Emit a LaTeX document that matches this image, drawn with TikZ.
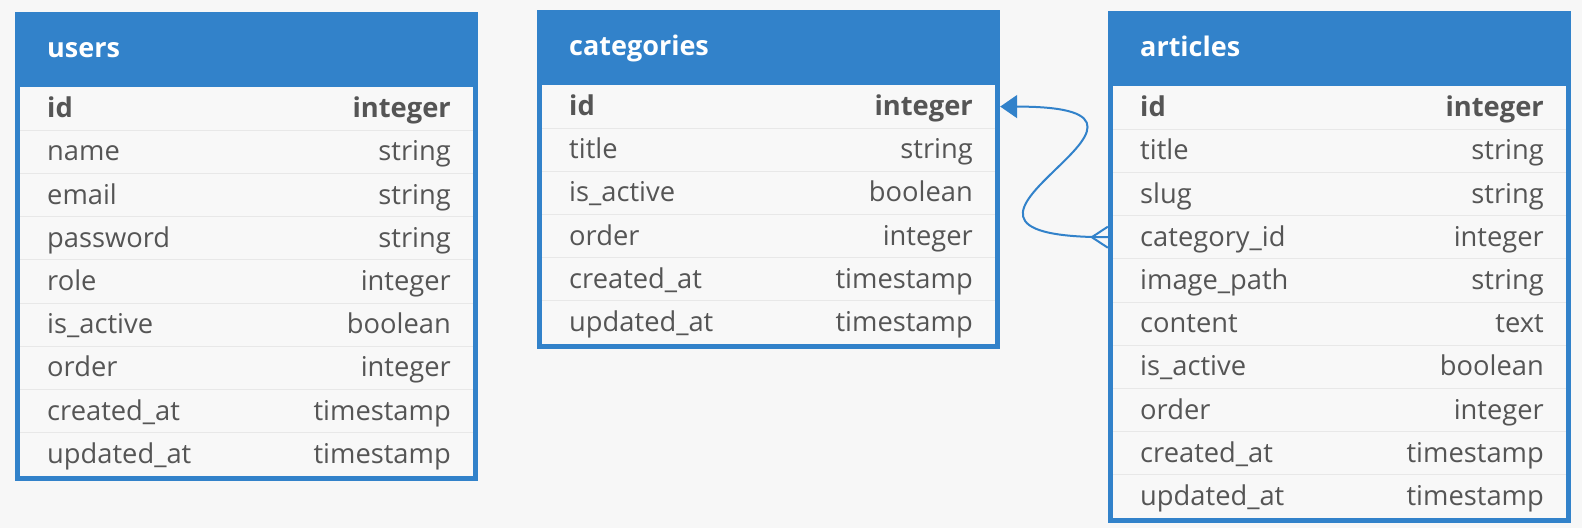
\documentclass[tikz,border=0pt]{standalone}
\usepackage{fontspec}
\setmainfont{Open Sans}
\usetikzlibrary{arrows.meta}
\definecolor{erblue}{RGB}{50,130,202}
\definecolor{erbg}{RGB}{247,247,247}
\definecolor{errow}{RGB}{248,248,248}
\definecolor{ersep}{RGB}{232,232,232}
\definecolor{ertext}{RGB}{85,85,85}
\tikzset{
  tablebox/.style={fill=erblue, draw=none, inner sep=0pt, anchor=north west},
  rowbox/.style={draw=none, inner sep=0pt},
  headtext/.style={text=white, font=\fontsize{27}{30}\selectfont\bfseries, inner sep=0pt, anchor=base west},
  fieldtext/.style={text=ertext, font=\fontsize{27.3}{32}\selectfont, inner sep=0pt, anchor=base west},
  typetext/.style={text=ertext, font=\fontsize{27.3}{32}\selectfont, inner sep=0pt, anchor=base east},
  sepline/.style={draw=ersep, line width=1pt},
  relline/.style={draw=erblue, line width=2pt},
}
% #1 name #2 left #3 top #4 right #5 header bottom #6 bottom #7 row count #8 title #9 rows
\newcommand\erdtab[9]{%
  \pgfmathsetmacro\ew{#4-#2}%
  \pgfmathsetmacro\eh{#6-#3}%
  \node[tablebox, minimum width=\ew pt, minimum height=\eh pt] (#1) at (#2,#3) {};
  \fill[errow] (#2+5,#5) rectangle (#4-5,#6-5);
  \pgfmathsetmacro\erh{(#6-5-#5)/#7}%
  \node[headtext] (#1-title) at (#2+32, {(#3+#5)/2+8}) {#8};
  \foreach \f/\t [count=\i] in {#9} {
    \pgfmathsetmacro\cy{#5+(\i-0.5)*\erh}
    \node[rowbox, minimum width=\ew pt, minimum height=\erh pt] (#1-\i) at ({(#2+#4)/2}, \cy) {};
    \ifnum\i>1 \draw[sepline] (#2+5, {#5+(\i-1)*\erh}) -- (#4-5, {#5+(\i-1)*\erh}); \fi
    \node[fieldtext] (#1-\i-f) at (#2+32, \cy+9) {\ifnum\i=1\bfseries\fi\f};
    \node[typetext] (#1-\i-t) at (#4-27, \cy+9) {\ifnum\i=1\bfseries\fi\t};
  }
}
\begin{document}
\begin{tikzpicture}[x=1pt, y=-1pt]
\fill[erbg] (0,0) rectangle (1582,528);
\useasboundingbox (0,0) rectangle (1582,528);

\erdtab{users}{15}{12}{478}{87}{481}{9}{users}{id/integer, name/string, email/string, password/string, role/integer, is\_active/boolean, order/integer, created\_at/timestamp, updated\_at/timestamp}

\erdtab{categories}{537}{10}{1000}{85}{349}{6}{categories}{id/integer, title/string, is\_active/boolean, order/integer, created\_at/timestamp, updated\_at/timestamp}

\erdtab{articles}{1108}{11}{1571}{86}{523}{10}{articles}{id/integer, title/string, slug/string, category\_id/integer, image\_path/string, content/text, is\_active/boolean, order/integer, created\_at/timestamp, updated\_at/timestamp}

\draw[relline, -{Triangle[length=17pt,width=23pt]}] (articles-4.west) .. controls +(-238,0) and +(230,0) .. (categories-1.east);
\coordinate (crow) at ([xshift=-16pt]articles-4.west);
\draw[relline] (crow) -- ([yshift=10.5pt]articles-4.west);
\draw[relline] (crow) -- ([yshift=-10.5pt]articles-4.west);
\end{tikzpicture}
\end{document}
